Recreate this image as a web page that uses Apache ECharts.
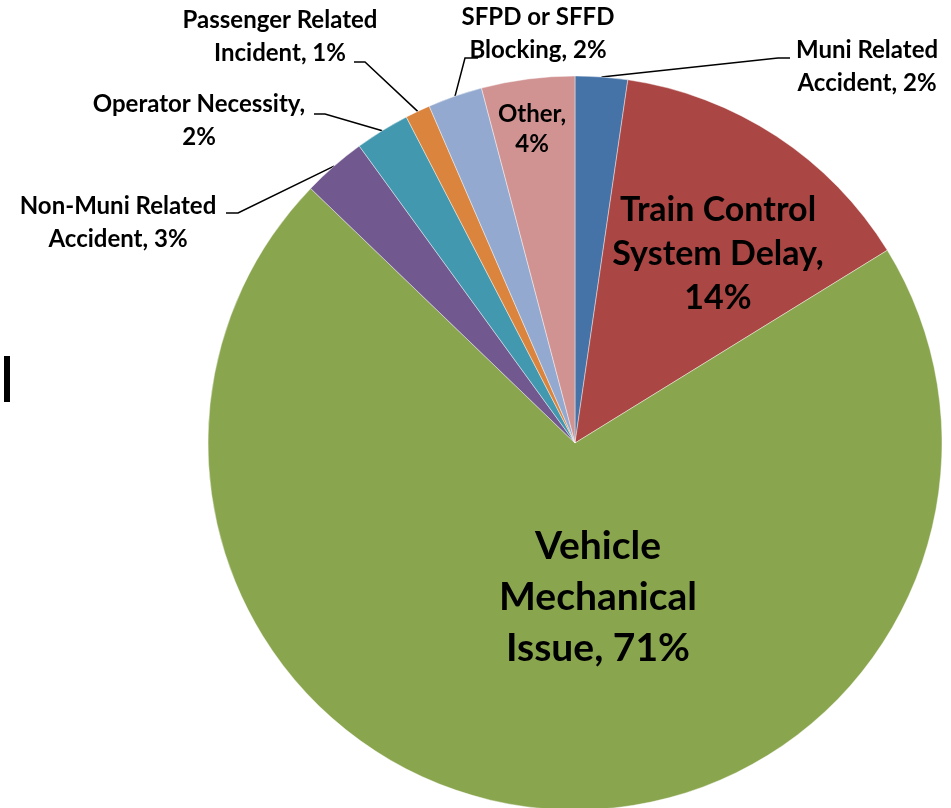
<!DOCTYPE html>
<html>
<head>
<meta charset="utf-8">
<script src="https://cdn.jsdelivr.net/npm/echarts@6/dist/echarts.min.js"></script>
<style>
html,body{margin:0;padding:0;background:#fff;}
#chart{width:951px;height:808px;}
</style>
</head>
<body>
<div id="chart"></div>
<script>
// ---- data ----
var categories = ['Muni Related Accident', 'Train Control System Delay', 'Vehicle Mechanical Issue',
  'Non-Muni Related Accident', 'Operator Necessity', 'Passenger Related Incident',
  'SFPD or SFFD Blocking', 'Other'];
var values = [2.3, 13.9, 71.0, 2.8, 2.4, 1.1, 2.4, 4.1];
// label text templates ({p} = rounded percent)
var labelTemplates = ['Muni Related\nAccident, {p}%', 'Train Control\nSystem Delay,\n{p}%', 'Vehicle\nMechanical\nIssue, {p}%',
  'Non-Muni Related\nAccident, {p}%', 'Operator Necessity,\n{p}%', 'Passenger Related\nIncident, {p}%',
  'SFPD or SFFD\nBlocking, {p}%', 'Other,\n{p}%'];

// ---- styles / layout ----
var colors = ['#4572A7', '#AA4643', '#89A54E', '#71588F', '#4198AF', '#DB843D', '#93A9CF', '#D19392'];
var insideIdx = [1, 2, 7];
// label centre and leader line (elbow, end) per slice
var labelLayouts = [
  {c: [867, 67], elbow: [778, 58], end: [790, 58]},
  {c: [718, 254]},
  {c: [598, 597]},
  {c: [118, 223], elbow: [238, 213], end: [226, 213]},
  {c: [199, 121], elbow: [325, 114], end: [314, 114]},
  {c: [280, 37], elbow: [365, 62], end: [354, 62]},
  {c: [538, 34], elbow: [465, 58], end: [478, 58]},
  {c: [532, 129]}
];
var fontSizes = [24, 34, 39, 24, 24, 24, 24, 24];
var lineHeights = [33, 44, 51, 33, 33, 33, 33, 30];

var data = categories.map(function (name, i) {
  var inside = insideIdx.indexOf(i) >= 0;
  return {
    name: name,
    value: values[i],
    itemStyle: {color: colors[i]},
    label: {
      position: inside ? 'inside' : 'outside',
      fontSize: fontSizes[i],
      lineHeight: lineHeights[i]
    },
    labelLine: {show: !inside}
  };
});

var chart = echarts.init(document.getElementById('chart'), null, {renderer: 'canvas'});
chart.setOption({
  backgroundColor: '#ffffff',
  animation: false,
  graphic: [{
    type: 'rect', left: 4, top: 356,
    shape: {width: 6, height: 46},
    style: {fill: '#000'}
  }],
  series: [{
    type: 'pie',
    center: [575, 443],
    radius: 367,
    startAngle: 90,
    clockwise: true,
    avoidLabelOverlap: false,
    itemStyle: {borderColor: 'rgba(255,255,255,0.7)', borderWidth: 0.6},
    label: {
      show: true,
      color: '#000',
      fontFamily: 'Lato',
      fontWeight: 'bold',
      align: 'center',
      formatter: function (p) {
        return labelTemplates[p.dataIndex].replace('{p}', Math.round(p.percent));
      }
    },
    labelLine: {
      show: true,
      lineStyle: {color: '#000', width: 1.5},
      length: 20, length2: 10
    },
    labelLayout: function (params) {
      var L = labelLayouts[params.dataIndex];
      var res = {x: L.c[0], y: L.c[1], align: 'center', verticalAlign: 'middle'};
      if (L.elbow && params.labelLinePoints) {
        var start = params.labelLinePoints[0];
        res.labelLinePoints = [[start[0], start[1]], L.elbow.slice(), L.end.slice()];
      }
      return res;
    },
    emphasis: {disabled: true},
    data: data
  }]
});
</script>
</body>
</html>
